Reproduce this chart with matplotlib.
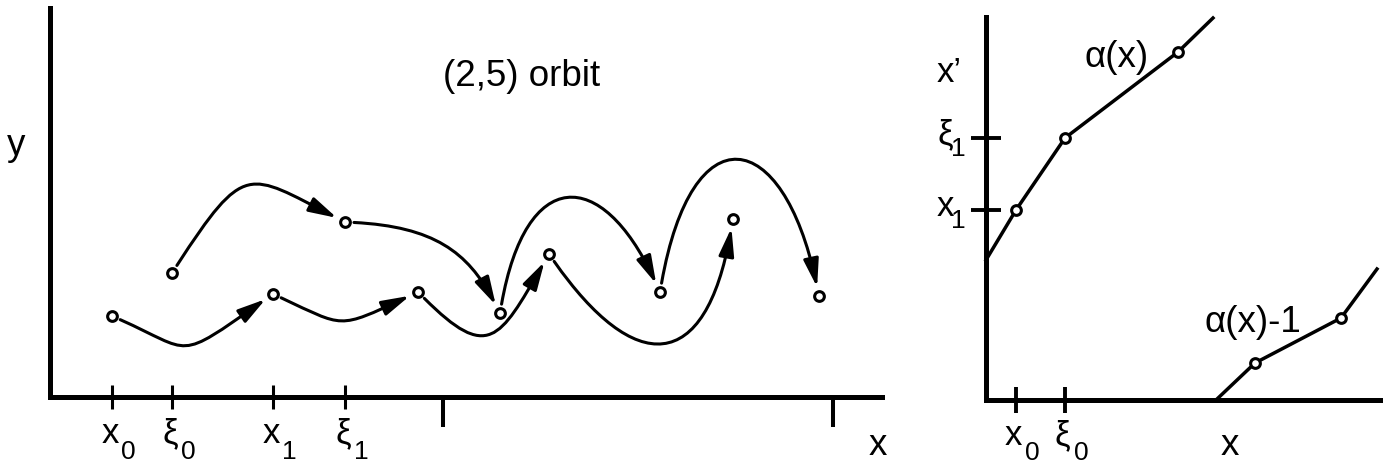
import numpy as np
import matplotlib
matplotlib.use("Agg")
import matplotlib.pyplot as plt
from matplotlib.patches import FancyArrowPatch
from matplotlib.path import Path

# left panel: the two interleaved (2,5) orbits, units of 100 px
orbit_x = [0.62, 2.23, 3.68, 4.99, 6.83]
orbit_y = [0.81, 1.03, 1.05, 1.43, 1.78]
xi_x = [1.22, 2.95, 4.50, 6.10, 7.69]
xi_y = [1.24, 1.75, 0.84, 1.05, 1.01]
period_ticks = [3.93, 7.83]

# right panel: the map alpha(x) and alpha(x)-1
alpha_x = [0.0, 0.30, 0.79, 1.92, 2.27]
alpha_y = [1.40, 1.90, 2.62, 3.48, 3.82]
alpha1_x = [2.30, 2.69, 3.55, 3.91]
alpha1_y = [0.0, 0.37, 0.82, 1.31]

# arc shapes: start angle, arrival angle, handle lengths
lower_arcs = [(-24, 35, 0.80, 1.10), (-25, 25, 0.70, 0.80),
              (-45, 60, 0.90, 0.90), (-55, 80, 1.40, 1.50)]
upper_arcs = [(57, -27, 1.25, 1.00), (-3, -62, 0.80, 0.60),
              (80, -65, 1.40, 1.30), (80, -78, 1.75, 1.65)]

plt.rcParams["font.family"] = ["Liberation Sans", "DejaVu Sans"]
big = 26.5
main_fs = 25
sub_fs = 19
spine_w = 3.6
circle = dict(ms=7, mfc="white", mec="black", mew=2.2, zorder=3)


def arc(ax, p, q, a0, a1, l0, l1, gap=0.09):
    d0 = np.array([np.cos(np.radians(a0)), np.sin(np.radians(a0))])
    d1 = np.array([np.cos(np.radians(a1)), np.sin(np.radians(a1))])
    p0 = np.array(p) + gap * d0
    p3 = np.array(q) - gap * d1
    path = Path([p0, p0 + l0 * d0, p3 - l1 * d1, p3],
                [Path.MOVETO, Path.CURVE4, Path.CURVE4, Path.CURVE4])
    ax.add_patch(FancyArrowPatch(path=path,
                                 arrowstyle="-|>,head_length=0.85,head_width=0.23",
                                 mutation_scale=20, lw=2.2, color="black"))


def sub_label(ax, xy, main, sub, coords, main_off, sub_off):
    ax.annotate(main, xy, xycoords=coords, xytext=main_off, textcoords="offset pixels",
                ha="center", va="baseline", fontsize=main_fs, annotation_clip=False)
    ax.annotate(sub, xy, xycoords=coords, xytext=sub_off, textcoords="offset pixels",
                ha="left", va="baseline", fontsize=sub_fs, annotation_clip=False)


def frame(ax):
    for s in ["top", "right"]:
        ax.spines[s].set_visible(False)
    for s in ["left", "bottom"]:
        ax.spines[s].set_linewidth(spine_w)
        ax.spines[s].set_capstyle("projecting")
    ax.set_yticks([])


fig = plt.figure(figsize=(13.88, 4.68), dpi=100)

# ---- left panel
ax = fig.add_axes([50 / 1388, 71 / 468, 832 / 1388, 389 / 468])
ax.set_xlim(0, 8.32)
ax.set_ylim(0, 3.89)
frame(ax)

for i in range(len(orbit_x) - 1):
    arc(ax, (orbit_x[i], orbit_y[i]), (orbit_x[i + 1], orbit_y[i + 1]), *lower_arcs[i])
for i in range(len(xi_x) - 1):
    arc(ax, (xi_x[i], xi_y[i]), (xi_x[i + 1], xi_y[i + 1]), *upper_arcs[i])

ax.plot(orbit_x, orbit_y, "o", **circle)
ax.plot(xi_x, xi_y, "o", **circle)

small_ticks = [orbit_x[0], xi_x[0], orbit_x[1], xi_x[1]]
small_labels = [("x", "0"), ("ξ", "0"), ("x", "1"), ("ξ", "1")]
ax.set_xticks(period_ticks)
ax.set_xticks(small_ticks, minor=True)
ax.tick_params(axis="x", which="major", direction="out", length=21.6, width=2.9,
               labelbottom=False)
ax.tick_params(axis="x", which="minor", direction="inout", length=17.3, width=2.2)
for t, (m, s) in zip(small_ticks, small_labels):
    sub_label(ax, (t, 0), m, s, ax.get_xaxis_transform(), (-2, -46), (9, -62))

ax.text(-0.34, 2.42, "y", ha="center", va="baseline", fontsize=big)
ax.text(8.28, -0.58, "x", ha="center", va="baseline", fontsize=big)
ax.text(4.72, 3.20, "(2,5) orbit", ha="center", va="center", fontsize=big)

# ---- right panel
ax2 = fig.add_axes([986 / 1388, 68 / 468, 394 / 1388, 383 / 468])
ax2.set_xlim(0, 3.94)
ax2.set_ylim(0, 3.83)
frame(ax2)

ax2.plot(alpha_x, alpha_y, "k-", lw=2.5, clip_on=False)
ax2.plot(alpha1_x, alpha1_y, "k-", lw=2.5, clip_on=False)
ax2.plot(alpha_x[1:4], alpha_y[1:4], "o", **circle)
ax2.plot(alpha1_x[1:3], alpha1_y[1:3], "o", **circle)

map_xticks = [alpha_x[1], alpha_x[2]]
map_yticks = [alpha_y[1], alpha_y[2]]
ax2.set_xticks(map_xticks)
ax2.set_yticks(map_yticks)
ax2.tick_params(axis="x", direction="inout", length=18.7, width=2.8, labelbottom=False)
ax2.tick_params(axis="y", direction="inout", length=21.6, width=2.8, labelleft=False)
for t, (m, s) in zip(map_xticks, [("x", "0"), ("ξ", "0")]):
    sub_label(ax2, (t, 0), m, s, ax2.get_xaxis_transform(), (-3, -45), (9, -60))
for t, (m, s) in zip(map_yticks, [("x", "1"), ("ξ", "1")]):
    sub_label(ax2, (0, t), m, s, ax2.get_yaxis_transform(), (-41, -6), (-35, -18))

ax2.text(-0.49, 3.18, "x’", ha="left", va="baseline", fontsize=main_fs)
ax2.text(2.44, -0.55, "x", ha="center", va="baseline", fontsize=big)
ax2.text(1.31, 3.43, "α(x)", ha="center", va="center", fontsize=big)
ax2.text(2.67, 0.78, "α(x)-1", ha="center", va="center", fontsize=big)

fig.savefig("out.png", dpi=100)
